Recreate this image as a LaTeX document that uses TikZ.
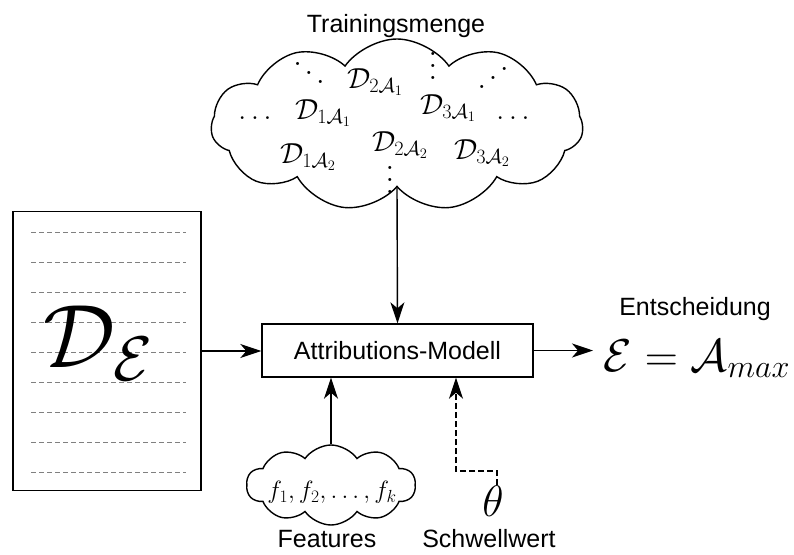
\RequirePackage{fix-cm}
\documentclass[tikz,border=0pt]{standalone}
\usepackage{fontspec}
\setsansfont{Liberation Sans}
\usetikzlibrary{shapes.symbols,arrows.meta}

% dots built at 10pt and enlarged, since their spacing is given in fixed points
\newcommand{\bigvdots}{\scalebox{2.9}{\fontsize{10}{12}\selectfont$\vdots$}}
\newcommand{\bigddots}{\scalebox{2.9}{\fontsize{10}{12}\selectfont$\ddots$}}
\newcommand{\bigiddots}{\scalebox{-2.9}[2.9]{\fontsize{10}{12}\selectfont$\ddots$}}

\begin{document}
\begin{tikzpicture}[x=1pt,y=-1pt,
  every path/.style={line width=1.4pt},
  lbl/.style={font=\sffamily\fontsize{25}{30}\selectfont, inner sep=0pt},
  cmath/.style={font=\fontsize{29}{34}\selectfont, inner sep=0pt},
  arr/.style={-{Stealth[length=21pt,width=14pt,inset=6pt]}},
  puffy/.style={cloud, draw, cloud ignores aspect, inner sep=0pt},
  ruler/.style={gray, line width=0.8pt, dash pattern=on 5pt off 3pt},
]
\useasboundingbox (0,0) rectangle (794,554);

% training set cloud
\node[lbl, anchor=base] (tlabel) at (396,32) {Trainingsmenge};
\node[puffy, cloud puffs=11, cloud puff arc=110, minimum width=372pt, minimum height=172pt] (train) at (397,125) {};
\node[cmath, anchor=base] (dd)   at (309,86)  {\bigddots};
\node[cmath] (d2a1) at (375,82)  {$\mathcal{D}_{2\mathcal{A}_1}$};
\node[cmath, anchor=base] (vt)   at (433,79)  {\bigvdots};
\node[cmath, anchor=base] (id)   at (493,91)  {\bigiddots};
\node[cmath] (d1a1) at (323,113) {$\mathcal{D}_{1\mathcal{A}_1}$};
\node[cmath] (d3a1) at (448,108) {$\mathcal{D}_{3\mathcal{A}_1}$};
\node[cmath] (ll)   at (255,118) {$\ldots$};
\node[cmath] (lr)   at (513,118) {$\ldots$};
\node[cmath] (d2a2) at (400,145) {$\mathcal{D}_{2\mathcal{A}_2}$};
\node[cmath] (d1a2) at (308,157) {$\mathcal{D}_{1\mathcal{A}_2}$};
\node[cmath] (d3a2) at (482,153) {$\mathcal{D}_{3\mathcal{A}_2}$};
\node[cmath, anchor=base] (vb)   at (390,193) {\bigvdots};

% document to classify
\node[draw, minimum width=188pt, minimum height=279pt, inner sep=0pt] (doc) at (107,351) {};
\foreach \i in {0,...,8}
  \draw[ruler] (31,232+30*\i) -- (186,232+30*\i);
\node[inner sep=0pt, font=\fontsize{90}{100}\selectfont] (de) at (98,343) {$\mathcal{D}_{\mathcal{E}}$};

% attribution model
\node[draw, lbl, minimum width=271pt, minimum height=53pt] (model) at (397.5,350.5) {Attributions-Modell};

% features
\node[puffy, cloud puffs=10, cloud puff arc=110, minimum width=169pt, minimum height=80pt] (feat) at (331,485) {};
\node[inner sep=0pt, font=\fontsize{25}{30}\selectfont] (ftext) at (332,492) {$f_1, f_2, \ldots, f_k$};
\node[lbl, anchor=base] (flabel) at (327,547) {Features};

% threshold
\node[inner sep=0pt, font=\fontsize{44}{50}\selectfont] (theta) at (493,501) {$\theta$};
\node[lbl, anchor=base] (slabel) at (489,547) {Schwellwert};

% decision
\node[lbl, anchor=base] (elabel) at (695,315) {Entscheidung};
\node[inner sep=0pt, anchor=base west, font=\fontsize{46}{52}\selectfont] (dec) at (603,371) {$\mathcal{E} = \mathcal{A}_{max}$};

% connectors
\draw[arr] (train.south) -- (model.north);
\draw[arr] (doc.east) -- (doc.east -| model.west);
\draw[arr] (feat.north) -- (feat.north |- model.south);
\draw[arr, dash pattern=on 6pt off 3pt] ([xshift=4pt]theta.north) -- ++(0,-14) -| ([xshift=58.5pt]model.south);
\draw[arr] (model.east) -- ([xshift=-10pt]model.east -| dec.west);
\end{tikzpicture}
\end{document}
